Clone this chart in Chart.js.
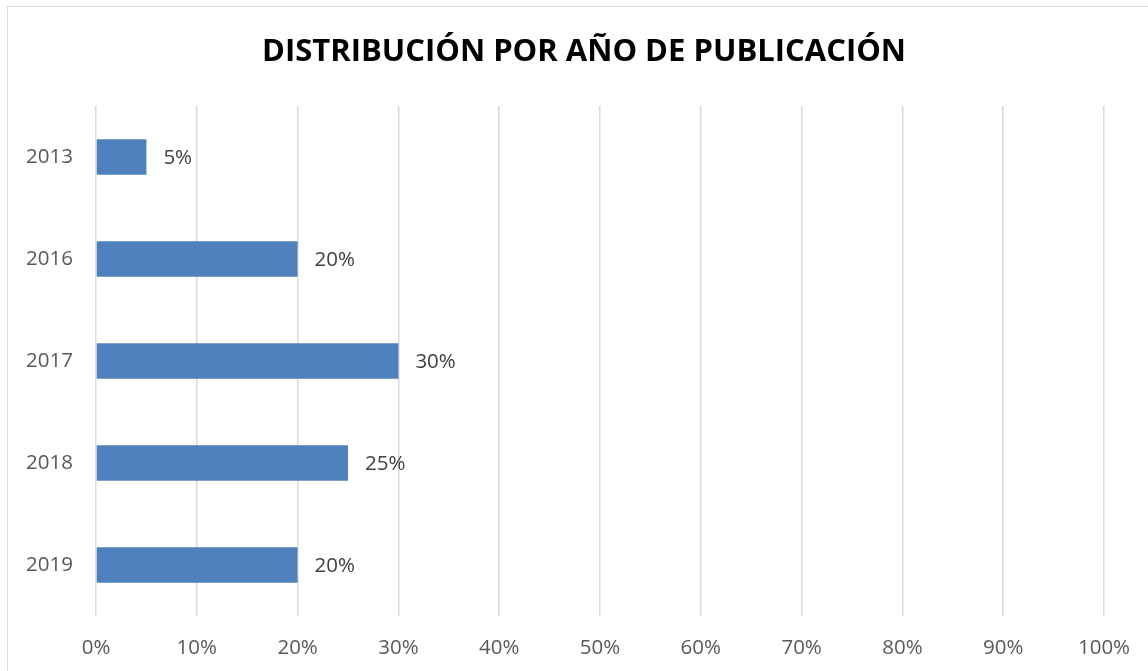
<!DOCTYPE html>
<html>
<head>
<meta charset="utf-8">
<script src="https://cdn.jsdelivr.net/npm/chart.js@4.4.0/dist/chart.umd.min.js"></script>
<style>
  body { margin: 0; background: #fff; }
  #wrap { position: relative; width: 1148px; height: 671px; overflow: hidden; }
  #marco { position: absolute; left: 7px; top: 6px; width: 1180px; height: 700px; border: 1px solid #d9d9d9; }
  #chartAnios { position: absolute; left: 0; top: 0; }
</style>
</head>
<body>
<div id="wrap">
  <div id="marco"></div>
  <canvas id="chartAnios" width="1148" height="671"></canvas>
</div>
<script>
const anios = ['2013', '2016', '2017', '2018', '2019']
const porcentajes = [5, 20, 30, 25, 20]
const titulo = 'DISTRIBUCIÓN POR AÑO DE PUBLICACIÓN'

const fuente = "'Open Sans', 'Noto Sans', sans-serif"

// titulo centrado sobre el marco completo
const tituloPlugin = {
    id : 'tituloPlugin',
    afterDraw(chart) {
        const ctx = chart.ctx
        ctx.save()
        ctx.font = `bold 31px ${fuente}`
        ctx.fillStyle = '#000'
        ctx.textAlign = 'center'
        ctx.textBaseline = 'middle'
        ctx.fillText(titulo, 584, 52)
        ctx.restore()
    }
}

// etiquetas de valor a la derecha de cada barra
const etiquetas = {
    id : 'etiquetas',
    afterDatasetsDraw(chart) {
        const ctx = chart.ctx
        const meta = chart.getDatasetMeta(0)
        ctx.save()
        ctx.font = `20.5px ${fuente}`
        ctx.fillStyle = '#404040'
        ctx.textAlign = 'left'
        ctx.textBaseline = 'middle'
        meta.data.forEach((barra, i) => {
            ctx.fillText(porcentajes[i] + '%', barra.x + 17, barra.y + 1)
        })
        ctx.restore()
    }
}

const context = document.getElementById('chartAnios').getContext('2d')

const chartAnios = new Chart(context, {
    type : 'bar',
    data : {
        labels : anios,
        datasets : [
            {
                label : 'Publicaciones',
                data : porcentajes,
                backgroundColor : '#4f81bd',
                borderWidth : 0,
                barPercentage : 0.35,
                categoryPercentage : 1
            }
        ]
    },
    options : {
        indexAxis : 'y',
        responsive : false,
        animation : false,
        layout : {
            padding : { left : 0, right : 44, top : 106, bottom : 0 }
        },
        plugins : {
            legend : { display : false },
            tooltip : { enabled : false },
            title : { display : false }
        },
        scales : {
            x : {
                min : 0,
                max : 100,
                ticks : {
                    stepSize : 10,
                    color : '#595959',
                    font : { family : fuente, size : 20.5 },
                    padding : 20,
                    callback : v => v + '%'
                },
                grid : { color : '#d9d9d9', lineWidth : 1.5, drawTicks : false },
                border : { display : false },
                afterFit : scale => {
                    scale.height = 55
                    scale.paddingLeft = 0
                    scale.paddingRight = 0
                }
            },
            y : {
                ticks : {
                    color : '#595959',
                    font : { family : fuente, size : 20.5 },
                    padding : 23
                },
                grid : { display : false, drawTicks : false },
                border : { display : false },
                afterFit : scale => { scale.width = 96 }
            }
        }
    },
    plugins : [etiquetas, tituloPlugin]
})
</script>
</body>
</html>
